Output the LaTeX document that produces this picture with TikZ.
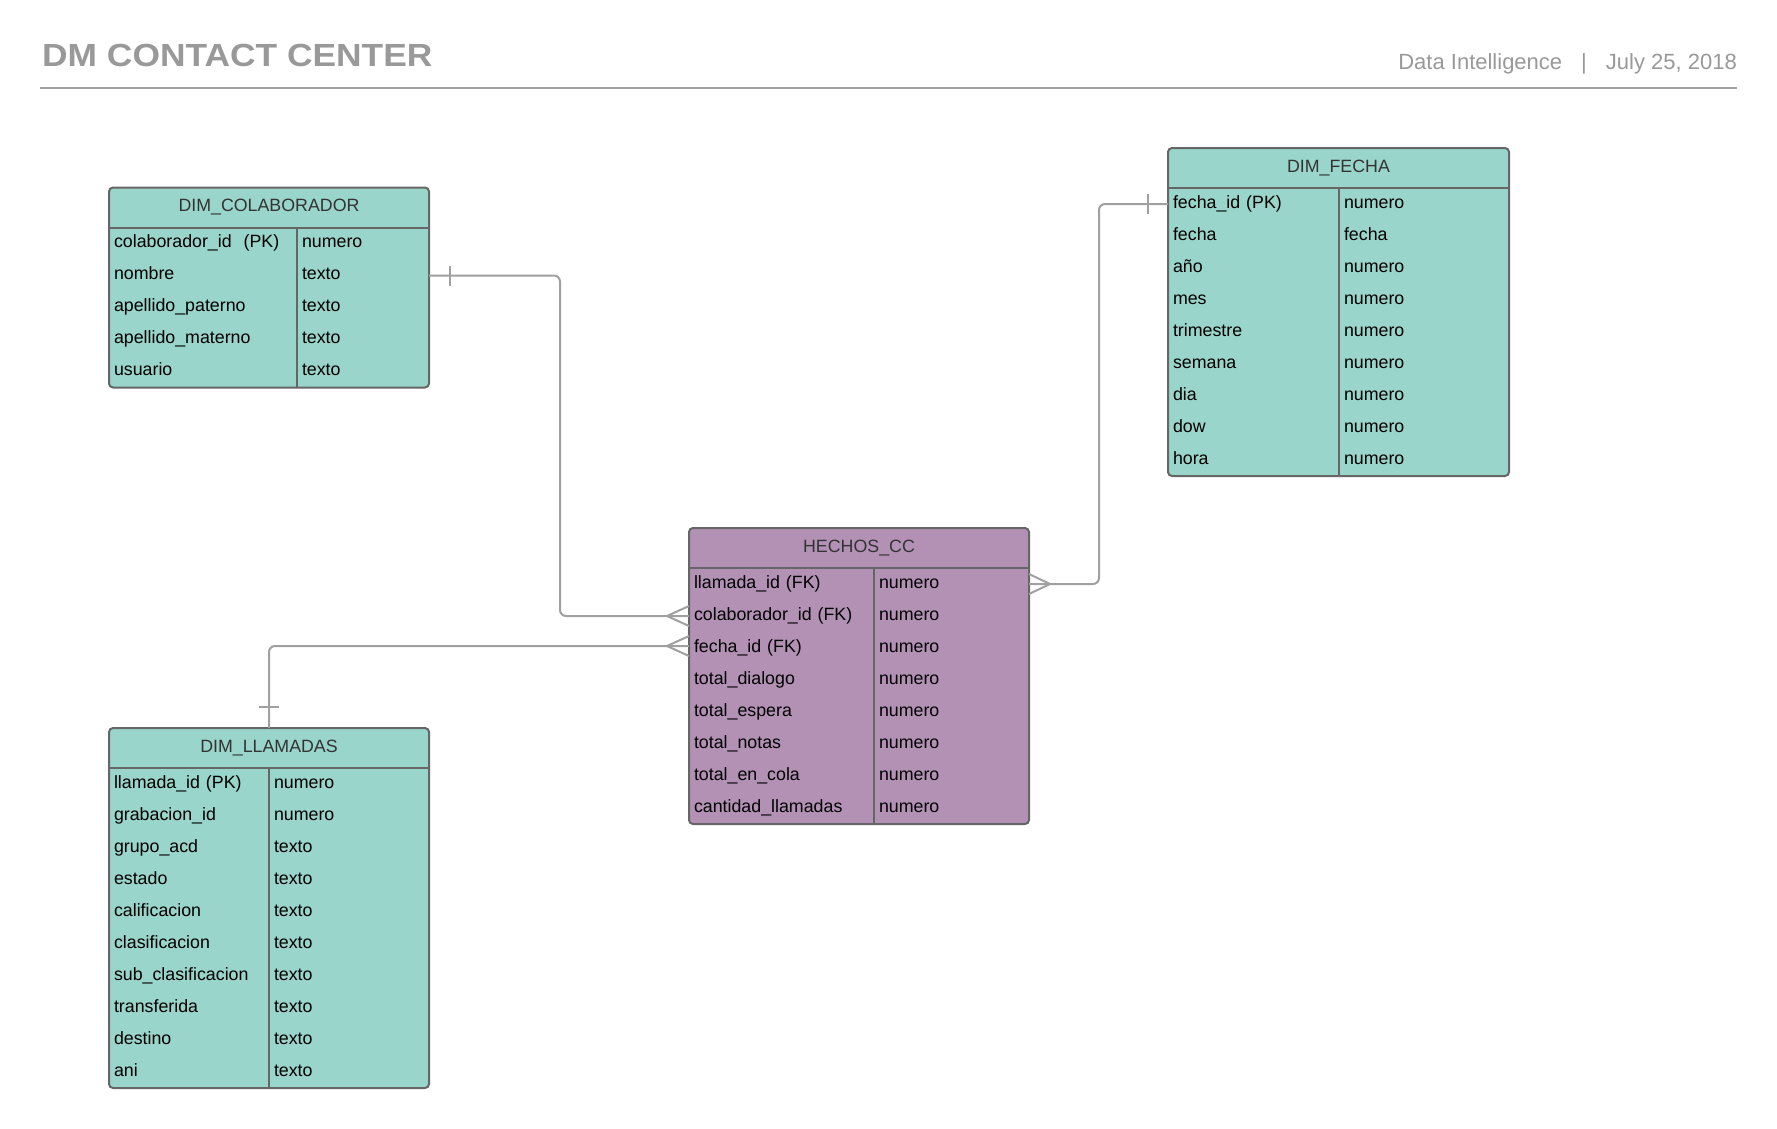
\documentclass[tikz,border=0pt]{standalone}
\usepackage{graphicx}
\usepackage{fontspec}
\setmainfont{Liberation Sans}
\usetikzlibrary{calc}
\definecolor{tealfill}{HTML}{99D5CA}
\definecolor{purpfill}{HTML}{B391B5}
\definecolor{bordc}{HTML}{666666}
\definecolor{conng}{HTML}{A0A0A0}
\definecolor{headt}{HTML}{333333}
\definecolor{titleg}{HTML}{999999}
\definecolor{rulec}{HTML}{A0A0A0}

% #1 name, #2 x0, #3 top, #4 left col width, #5 right col width,
% #6 fill, #7 title, #8 rows, #9 number of rows
\newcommand\ertable[9]{%
  \pgfmathsetmacro\ertw{#4+#5}%
  \pgfmathsetmacro\erth{40+32*#9}%
  \pgfmathsetmacro\erka{#4-10}%
  \pgfmathsetmacro\erkb{#5-10}%
  \node[tbox, fill=#6, minimum width=\ertw pt, minimum height=\erth pt, anchor=north west] (#1) at (#2,#3) {};
  \node[thead, minimum width=\ertw pt, anchor=north west] (#1-h) at (#2,#3) {#7};
  \foreach \ka/\kb [count=\i] in {#8} {
    \node[cell, text width=\erka pt, anchor=north west] (#1-k\i) at (#2, #3+40+32*\i-32) {\ka};
    \node[cell, text width=\erkb pt, anchor=north west] (#1-t\i) at (#2+#4, #3+40+32*\i-32) {\kb};
  }
  \draw[tline] (#1.west |- #1-k1.north) -- (#1.east |- #1-k1.north);
  \draw[tline] (#1-t1.north west) -- (#1-t#9.south west);
}

\begin{document}
\begin{tikzpicture}[x=1pt, y=-1pt,
  tbox/.style={draw=bordc, line width=2pt, rounded corners=4pt, inner sep=0pt, outer sep=0pt},
  thead/.style={minimum height=40pt, inner sep=0pt, outer sep=0pt, text height=13pt, text depth=5pt, text=headt, font=\fontsize{17.8}{21}\selectfont},
  cell/.style={minimum height=32pt, inner xsep=5pt, inner ysep=0pt, outer sep=0pt, text height=13pt, text depth=5pt, align=left, text=black, font=\fontsize{17.8}{21}\selectfont},
  tline/.style={draw=bordc, line width=2pt},
  conn/.style={draw=conng, line width=2pt, rounded corners=6pt},
  tickst/.style={draw=conng, line width=2pt}]

\useasboundingbox[fill=white] (0,0) rectangle (1777,1128);

% header
\node[anchor=base west, inner sep=0pt, text=titleg, font=\fontsize{32}{37}\bfseries\selectfont] (title) at (42,66.5) {\scalebox{1.105}[1]{DM CONTACT CENTER}};
\node[anchor=base east, inner sep=0pt, text=titleg, font=\fontsize{22}{26}\selectfont] (sub) at (1737,69.5) {Data Intelligence\hspace{19pt}|\hspace{19pt}July 25, 2018};
\coordinate (ruleL) at (40,87.7);
\coordinate (ruleR) at (1737,87.7);
\draw[draw=rulec, line width=2pt] (ruleL) -- (ruleR);

% tables
\ertable{col}{109}{187.5}{188}{132}{tealfill}{DIM\_COLABORADOR}{colaborador\_id\ \ (PK)/numero, nombre/texto, apellido\_paterno/texto, apellido\_materno/texto, usuario/texto}{5}

\ertable{fec}{1168}{148}{171}{170}{tealfill}{DIM\_FECHA}{fecha\_id (PK)/numero, fecha/fecha, año/numero, mes/numero, trimestre/numero, semana/numero, dia/numero, dow/numero, hora/numero}{9}

\ertable{hec}{689}{528}{185}{155}{purpfill}{HECHOS\_CC}{llamada\_id (FK)/numero, colaborador\_id (FK)/numero, fecha\_id (FK)/numero, total\_dialogo/numero, total\_espera/numero, total\_notas/numero, total\_en\_cola/numero, cantidad\_llamadas/numero}{8}

\ertable{lla}{109}{728}{160}{160}{tealfill}{DIM\_LLAMADAS}{llamada\_id (PK)/numero, grabacion\_id/numero, grupo\_acd/texto, estado/texto, calificacion/texto, clasificacion/texto, sub\_clasificacion/texto, transferida/texto, destino/texto, ani/texto}{10}

% bend points
\coordinate (bend1) at (560,0);
\coordinate (bend3) at (1099,0);
\coordinate (fk3) at ([yshift=2pt]hec-k3.west);

% connector DIM_COLABORADOR -> HECHOS_CC
\draw[conn] (col-t2.east) -- (col-t2.east -| bend1) -- (bend1 |- hec-k2.west) -- (hec-k2.west);
\draw[tickst] ([xshift=21pt,yshift=10pt]col-t2.east) -- ([xshift=21pt,yshift=-10pt]col-t2.east);
\draw[conn] ([xshift=-22pt]hec-k2.west) -- ([yshift=10pt]hec-k2.west)
            ([xshift=-22pt]hec-k2.west) -- ([yshift=-10pt]hec-k2.west);

% connector HECHOS_CC -> DIM_LLAMADAS
\draw[conn] (fk3) -| (lla.north);
\draw[tickst] ([xshift=-10pt,yshift=21.5pt]lla.north) -- ([xshift=10pt,yshift=21.5pt]lla.north);
\draw[conn] ([xshift=-22pt]fk3) -- ([yshift=10pt]fk3)
            ([xshift=-22pt]fk3) -- ([yshift=-10pt]fk3);

% connector HECHOS_CC -> DIM_FECHA
\draw[conn] (hec-t1.east) -- (hec-t1.east -| bend3) -- (bend3 |- fec-k1.west) -- (fec-k1.west);
\draw[tickst] ([xshift=-20pt,yshift=10pt]fec-k1.west) -- ([xshift=-20pt,yshift=-10pt]fec-k1.west);
\draw[conn] ([xshift=21pt]hec-t1.east) -- ([yshift=10pt]hec-t1.east)
            ([xshift=21pt]hec-t1.east) -- ([yshift=-10pt]hec-t1.east);
\end{tikzpicture}
\end{document}
